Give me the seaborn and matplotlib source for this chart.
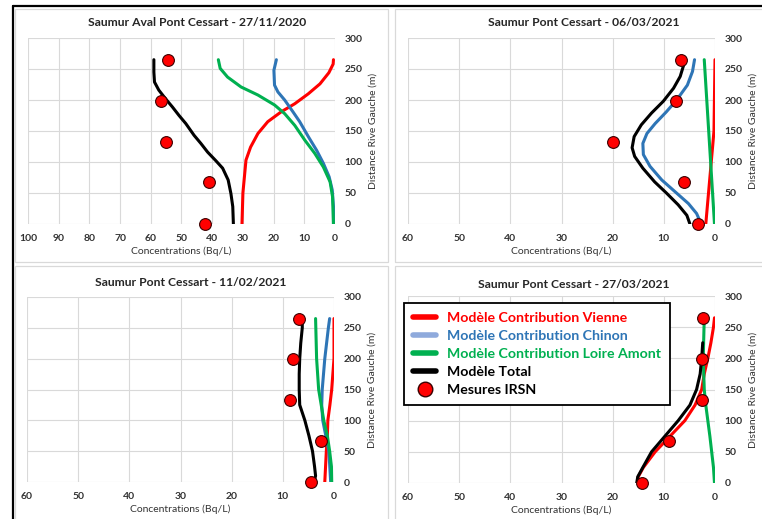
import matplotlib
matplotlib.use("Agg")
import matplotlib.pyplot as plt
import seaborn as sns
import pandas as pd
from matplotlib.lines import Line2D
from matplotlib.patches import Rectangle

# ---------------- data ----------------
titles = ["Saumur Aval Pont Cessart - 27/11/2020", "Saumur Pont Cessart - 06/03/2021",
          "Saumur Pont Cessart - 11/02/2021", "Saumur Pont Cessart - 27/03/2021"]
x_max = [100, 60, 60, 60]

meas_y = [265, 199, 133, 67, 0]
p1_meas = [54.5, 56.6, 55.0, 41.0, 42.5]
p2_meas = [6.6, 7.6, 20.0, 6.1, 3.4]
p3_meas = [6.8, 8.0, 8.6, 2.6, 4.4]
p4_meas = [2.4, 2.6, 2.6, 8.9, 14.3]

# panel 1 (27/11/2020)
p1_total_y = [0, 28, 49, 71, 90, 102, 116, 130, 143, 162, 175, 189, 202, 216, 229, 245, 265]
p1_total_x = [33.1, 33.3, 33.9, 34.8, 36.6, 38.8, 41.5, 43.7, 45.9, 48.6, 50.8, 53.0, 55.2, 57.4, 58.8, 59.0, 59.0]
p1_vienne_y = [0, 50, 103, 124, 146, 165, 181, 194, 210, 226, 244, 258, 265]
p1_vienne_x = [30.3, 30.0, 29.0, 27.5, 25.1, 21.9, 17.5, 13.1, 8.7, 4.9, 2.0, 0.6, 0.5]
p1_chinon_y = [0, 28, 55, 76, 98, 119, 141, 165, 181, 200, 213, 224, 248, 265]
p1_chinon_x = [0.5, 0.5, 0.9, 1.9, 3.8, 6.0, 8.7, 11.5, 13.7, 16.4, 18.6, 19.7, 19.9, 19.1]
p1_loire_y = [0, 44, 68, 92, 114, 135, 159, 178, 192, 208, 221, 237, 251, 265]
p1_loire_x = [0.5, 0.8, 1.6, 3.8, 6.6, 9.8, 13.1, 16.4, 19.7, 25.1, 30.6, 35.0, 37.4, 38.0]

# panel 2 (06/03/2021)
p2_total_y = [0, 14, 31, 50, 68, 90, 109, 123, 141, 160, 179, 198, 219, 238, 257, 265]
p2_total_x = [4.9, 5.5, 7.2, 9.5, 11.8, 14.1, 15.7, 16.2, 15.8, 14.4, 12.4, 10.1, 8.1, 6.8, 6.1, 6.1]
p2_vienne_y = [0, 75, 150, 265]
p2_vienne_x = [1.8, 1.0, 0.2, 0.0]
p2_chinon_y = [4, 17, 33, 52, 71, 93, 112, 130, 146, 162, 181, 200, 224, 246, 265]
p2_chinon_x = [2.9, 3.6, 5.2, 7.8, 10.4, 12.7, 14.0, 14.1, 13.3, 11.7, 9.5, 7.5, 5.4, 4.4, 4.0]
p2_loire_y = [0, 265]
p2_loire_x = [0.1, 2.1]

# panel 3 (11/02/2021)
p3_total_y = [0, 10, 25, 50, 75, 100, 125, 150, 175, 200, 225, 250, 265]
p3_total_x = [3.9, 3.6, 3.8, 4.2, 4.9, 5.7, 6.7, 6.8, 6.8, 6.7, 6.5, 6.2, 6.2]
p3_vienne_y = [0, 50, 75, 100, 125, 150, 200, 265]
p3_vienne_x = [1.8, 1.5, 1.3, 1.2, 0.8, 0.45, 0.0, 0.0]
p3_chinon_y = [0, 50, 75, 100, 125, 150, 200, 250, 265]
p3_chinon_x = [0.65, 1.0, 1.6, 2.2, 2.4, 2.3, 1.8, 1.1, 0.85]
p3_loire_y = [0, 25, 50, 75, 100, 125, 150, 200, 265]
p3_loire_x = [0.45, 0.5, 0.85, 1.3, 2.0, 2.5, 3.0, 3.4, 3.6]

# panel 4 (27/03/2021)
p4_total_y = [0, 10, 25, 50, 75, 100, 125, 150, 175, 200, 225]
p4_total_x = [15.3, 15.1, 14.1, 12.4, 9.8, 7.2, 4.9, 3.6, 2.9, 2.6, 2.4]
p4_vienne_y = [0, 10, 25, 50, 75, 100, 125, 150, 175, 200, 225, 250, 265]
p4_vienne_x = [15.1, 15.0, 14.0, 11.7, 8.8, 5.9, 3.9, 2.6, 2.1, 1.4, 0.8, 0.3, 0.1]
p4_loire_y = [0, 25, 50, 75, 100, 125, 150, 200, 265]
p4_loire_x = [0.1, 0.3, 0.65, 1.0, 1.4, 1.8, 2.1, 2.3, 2.1]

legend_labels = ["Modèle Contribution Vienne", "Modèle Contribution Chinon",
                 "Modèle Contribution Loire Amont", "Modèle Total", "Mesures IRSN"]

panels = [
    dict(vienne=(p1_vienne_x, p1_vienne_y), chinon=(p1_chinon_x, p1_chinon_y),
         loire=(p1_loire_x, p1_loire_y), total=(p1_total_x, p1_total_y), meas=p1_meas),
    dict(vienne=(p2_vienne_x, p2_vienne_y), chinon=(p2_chinon_x, p2_chinon_y),
         loire=(p2_loire_x, p2_loire_y), total=(p2_total_x, p2_total_y), meas=p2_meas),
    dict(vienne=(p3_vienne_x, p3_vienne_y), chinon=(p3_chinon_x, p3_chinon_y),
         loire=(p3_loire_x, p3_loire_y), total=(p3_total_x, p3_total_y), meas=p3_meas),
    dict(vienne=(p4_vienne_x, p4_vienne_y), chinon=None,
         loire=(p4_loire_x, p4_loire_y), total=(p4_total_x, p4_total_y), meas=p4_meas),
]

# ---------------- style ----------------
sns.set_style("white")
plt.rcParams["font.family"] = ["Lato", "DejaVu Sans"]

RED = "#FF0000"
BLUE = "#2E75B6"
GREEN = "#00B050"
BLACK = "#000000"
GRID = "#D9D9D9"
TXT = "#333333"

W, H = 762, 519
fig = plt.figure(figsize=(W / 100, H / 100), dpi=100)

# frame & panel boxes (decoration)
fig.add_artist(Line2D([13 / W, 13 / W], [0, 1 - 6 / H], color="black", lw=1.6, transform=fig.transFigure))
fig.add_artist(Line2D([13 / W, 1], [1 - 6 / H, 1 - 6 / H], color="black", lw=1.6, transform=fig.transFigure))
for (l, t, r, b) in [(15, 9, 388, 262), (395, 9, 770, 262), (15, 266, 388, 530), (395, 266, 770, 530)]:
    fig.add_artist(Rectangle((l / W, 1 - b / H), (r - l) / W, (b - t) / H, fill=False,
                             edgecolor=GRID, lw=0.9, transform=fig.transFigure))

axes_px = [(28, 335, 38, 224), (408, 715, 38, 224), (27, 334, 297, 482), (408, 715, 296, 483)]
title_x = [197, 584, 191, 574]
title_y = [23, 23, 283, 284]

for i, (l, r, t, b) in enumerate(axes_px):
    ax = fig.add_axes([l / W, 1 - b / H, (r - l) / W, (b - t) / H])
    p = panels[i]
    for key, col in [("vienne", RED), ("chinon", BLUE), ("loire", GREEN), ("total", BLACK)]:
        if p[key] is None:
            continue
        xs, ys = p[key]
        df = pd.DataFrame({"conc": xs, "dist": ys})
        sns.lineplot(data=df, x="conc", y="dist", sort=False, estimator=None,
                     color=col, lw=2.2, ax=ax, zorder=3)
    dm = pd.DataFrame({"conc": p["meas"], "dist": meas_y})
    sns.scatterplot(data=dm, x="conc", y="dist", color=RED, edgecolor="#3a0000",
                    linewidth=0.8, s=72, ax=ax, zorder=5, clip_on=False)

    ax.set_xlim(x_max[i], 0)
    ax.set_ylim(0, 300)
    ax.set_xticks(range(0, x_max[i] + 1, 10))
    ax.set_yticks(range(0, 301, 50))
    ax.grid(True, color=GRID, lw=0.8)
    ax.set_axisbelow(True)
    for s in ax.spines.values():
        s.set_visible(False)
    ax.yaxis.tick_right()
    ax.yaxis.set_label_position("right")
    ax.tick_params(length=0, labelsize=7.5, labelcolor=TXT)
    ax.tick_params(axis="x", pad=7)
    ax.tick_params(axis="y", pad=7)
    for lab in ax.get_xticklabels() + ax.get_yticklabels():
        lab.set_fontweight("bold")
    ax.set_xlabel("Concentrations (Bq/L)", fontsize=7.5, color=TXT, labelpad=3)
    ax.set_ylabel("Distance Rive Gauche (m)", fontsize=7.5, color=TXT, labelpad=4)
    fig.text(title_x[i] / W, 1 - title_y[i] / H, titles[i], ha="center", va="center",
             fontsize=8.7, fontweight="bold", color="#262626")

    if i == 3:
        handles = [Line2D([], [], color=RED, lw=4),
                   Line2D([], [], color="#8FAADC", lw=4),
                   Line2D([], [], color=GREEN, lw=4),
                   Line2D([], [], color=BLACK, lw=4),
                   Line2D([], [], marker="o", ls="none", mfc=RED, mec="#3a0000", ms=10.5)]
        leg = ax.legend(handles, legend_labels, loc="upper left",
                        bbox_to_anchor=(404 / W, 1 - 303 / H), bbox_transform=fig.transFigure,
                        borderaxespad=0, fancybox=False, framealpha=1, edgecolor="black",
                        prop={"size": 10.2, "weight": "bold"}, handlelength=1.6,
                        handletextpad=0.8, labelspacing=0.42, borderpad=0.65)
        leg.get_frame().set_linewidth(1.3)
        leg.set_zorder(10)
        for txt, c in zip(leg.get_texts(), [RED, BLUE, GREEN, BLACK, BLACK]):
            txt.set_color(c)

fig.savefig("out.png", dpi=100)
